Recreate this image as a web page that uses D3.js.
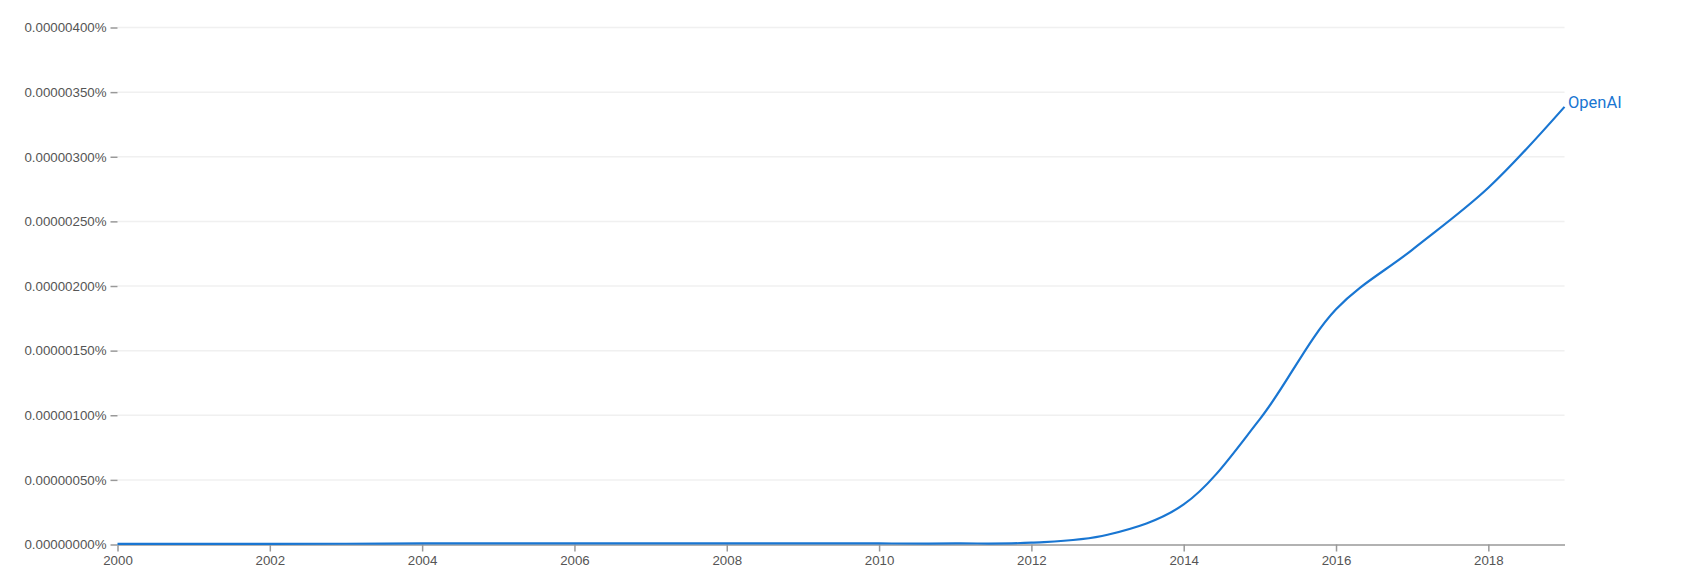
<!DOCTYPE html>
<html>
<head>
<meta charset="utf-8">
<script src="https://cdn.jsdelivr.net/npm/d3@7"></script>
<style>
  html, body { margin: 0; padding: 0; background: #fff; }
  svg { display: block; font-family: Roboto, "Noto Sans", sans-serif; }
</style>
</head>
<body>
<svg id="chart" width="1693" height="575"></svg>
<script>
// Data: yearly values in units of 0.00000001 %
const years = [2000, 2001, 2002, 2003, 2004, 2005, 2006, 2007, 2008, 2009,
               2010, 2011, 2012, 2013, 2014, 2015, 2016, 2017, 2018, 2019];
const openAI = [0.5, 0.5, 0.5, 0.6, 0.8, 0.9, 0.9, 0.9, 0.9, 0.9,
                0.8, 0.8, 1.4, 7.5, 31, 97, 182, 228, 276, 338.6];
const seriesName = "OpenAI";
const yTickValues = [0, 50, 100, 150, 200, 250, 300, 350, 400];
const yTickLabels = ["0.00000000%", "0.00000050%", "0.00000100%", "0.00000150%", "0.00000200%",
                     "0.00000250%", "0.00000300%", "0.00000350%", "0.00000400%"];
const xTickValues = [2000, 2002, 2004, 2006, 2008, 2010, 2012, 2014, 2016, 2018];

const svg = d3.select("#chart");
const margin = { left: 117.5, right: 1693 - 1564.5, top: 27.5, bottom: 575 - 544.5 };
const W = 1693, H = 575;

const x = d3.scaleLinear().domain([2000, 2019]).range([margin.left, W - margin.right]);
const y = d3.scaleLinear().domain([0, 400]).range([H - margin.bottom, margin.top]);

// Gridlines
svg.append("g")
  .selectAll("line")
  .data(yTickValues.slice(1))
  .join("line")
  .attr("x1", x(2000)).attr("x2", x(2019))
  .attr("y1", d => y(d)).attr("y2", d => y(d))
  .attr("stroke", "#f0f0f0").attr("stroke-width", 1.5);

// Y axis (ticks + labels, no domain line)
const yAxis = d3.axisLeft(y)
  .tickValues(yTickValues)
  .tickFormat((d, i) => yTickLabels[i])
  .tickSize(7)
  .tickPadding(4);
const gy = svg.append("g")
  .attr("transform", `translate(${x(2000)},0)`)
  .call(yAxis);
gy.select(".domain").remove();
gy.selectAll(".tick line").attr("stroke", "#999").attr("stroke-width", 1.5);
gy.selectAll(".tick text").attr("fill", "#555").attr("font-size", 13.3);

// X axis
const xAxis = d3.axisBottom(x)
  .tickValues(xTickValues)
  .tickFormat(d3.format("d"))
  .tickSize(7)
  .tickSizeOuter(0)
  .tickPadding(4);
const gx = svg.append("g")
  .attr("transform", `translate(0,${y(0)})`)
  .call(xAxis);
gx.select(".domain").attr("stroke", "#999").attr("stroke-width", 1.5);
gx.selectAll(".tick line").attr("stroke", "#999").attr("stroke-width", 1.5);
gx.selectAll(".tick text").attr("fill", "#555").attr("font-size", 13.3);

// Line
const pts = years.map((yr, i) => [yr, openAI[i]]);
const line = d3.line()
  .x(d => x(d[0]))
  .y(d => y(d[1]))
  .curve(d3.curveCatmullRom.alpha(0.5));
svg.append("path")
  .datum(pts)
  .attr("d", line)
  .attr("fill", "none")
  .attr("stroke", "#1976d2")
  .attr("stroke-width", 2.2)
  .attr("stroke-linejoin", "round");

// Series label
const last = pts[pts.length - 1];
svg.append("text")
  .attr("x", x(last[0]) + 3.5)
  .attr("y", y(last[1]) + 1.5)
  .attr("fill", "#1976d2")
  .attr("font-size", 16.5)
  .text(seriesName);
</script>
</body>
</html>
